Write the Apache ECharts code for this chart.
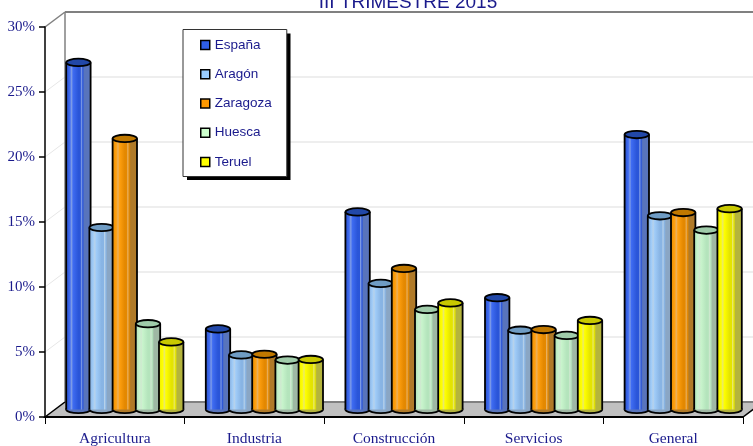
<!DOCTYPE html>
<html>
<head>
<meta charset="utf-8">
<style>html,body{margin:0;padding:0;background:#fff}#chart{width:753px;height:446px}</style>
<script src="https://cdn.jsdelivr.net/npm/echarts@6/dist/echarts.min.js"></script>
</head>
<body>
<div id="chart"></div>
<script>
const categories = ['Agricultura', 'Industria', 'Construcción', 'Servicios', 'General'];
const seriesNames = ['España', 'Aragón', 'Zaragoza', 'Huesca', 'Teruel'];
const espana = [26.7, 6.2, 15.2, 8.6, 21.15];
const aragon = [14.0, 4.2, 9.7, 6.1, 14.9];
const zaragoza = [20.85, 4.25, 10.85, 6.15, 15.15];
const huesca = [6.6, 3.8, 7.7, 5.7, 13.8];
const teruel = [5.2, 3.85, 8.2, 6.85, 15.45];
const seriesValues = [espana, aragon, zaragoza, huesca, teruel];
const yTicks = [0, 5, 10, 15, 20, 25, 30];

const legendColors = ['#2f5fe8', '#99ccff', '#ff9900', '#ccffcc', '#ffff00'];
const topColors = ['#2248a8', '#6f9cc4', '#c07800', '#a0ccaa', '#c8c800'];
// dark edge, bright, base, streak, muted
const bodyColors = [
  ['#2a50c8', '#3f6cf2', '#2a55d8', '#7f9ce6', '#5874bc'],
  ['#84acdc', '#a0ccf8', '#88b4e4', '#b8d2ea', '#8aa6c4'],
  ['#e88e00', '#ffa010', '#e48800', '#e8b060', '#b07a28'],
  ['#b0e2b6', '#c8f4cc', '#b4e4bc', '#cfe8d0', '#9fb8a4'],
  ['#eeee00', '#ffff00', '#e4e400', '#e8e870', '#b4b43c']
];

const NAVY = '#1a1a8c';
const DEPTH_X = 20, DEPTH_Y = -15;
const BAR_PITCH = 23.2, RX = 12.2, RY = 3.7;

function bodyFill(c) {
  return new echarts.graphic.LinearGradient(0, 0, 1, 0, [
    { offset: 0, color: c[0] }, { offset: 0.15, color: c[1] },
    { offset: 0.22, color: c[3] }, { offset: 0.28, color: c[1] },
    { offset: 0.5, color: c[2] }, { offset: 0.58, color: c[2] },
    { offset: 0.62, color: c[3] }, { offset: 0.68, color: c[2] },
    { offset: 0.74, color: c[4] }, { offset: 1, color: c[4] }
  ]);
}

function renderCylinder(i) {
  return function (params, api) {
    const top = api.coord([api.value(0), api.value(1)]);
    const base = api.coord([api.value(0), 0]);
    const cx = top[0] + (i - 2) * BAR_PITCH + DEPTH_X / 2;
    const topY = top[1] + DEPTH_Y / 2;
    const baseY = base[1] + DEPTH_Y / 2;
    const line = { stroke: '#000', lineWidth: 1.8 };
    return {
      type: 'group',
      children: [
        { type: 'ellipse', shape: { cx: cx, cy: baseY, rx: RX, ry: RY }, style: { fill: bodyColors[i][4], stroke: '#000', lineWidth: 1.8 } },
        { type: 'rect', shape: { x: cx - RX, y: topY, width: RX * 2, height: baseY - topY }, style: { fill: bodyFill(bodyColors[i]) } },
        { type: 'line', shape: { x1: cx - RX, y1: topY, x2: cx - RX, y2: baseY }, style: line },
        { type: 'line', shape: { x1: cx + RX, y1: topY, x2: cx + RX, y2: baseY }, style: line },
        { type: 'ellipse', shape: { cx: cx, cy: topY, rx: RX, ry: RY }, style: { fill: topColors[i], stroke: '#000', lineWidth: 1.8 } }
      ]
    };
  };
}

// back wall, floor and the 3d gridlines, one data item per y tick
function renderFrame(params, api) {
  const v = api.value(0);
  const x = params.coordSys.x;
  const x1 = x + params.coordSys.width;
  const y = api.coord([0, v])[1];
  const children = [];
  if (v === 0) {
    children.push({
      type: 'polygon',
      shape: { points: [[x, y], [x + DEPTH_X, y + DEPTH_Y], [x1 + DEPTH_X, y + DEPTH_Y], [x1, y]] },
      style: { fill: '#c0c0c0', stroke: '#000', lineWidth: 1.5 }
    });
    children.push({ type: 'line', shape: { x1: x + DEPTH_X, y1: y + DEPTH_Y, x2: x1 + DEPTH_X, y2: y + DEPTH_Y }, style: { stroke: '#808080', lineWidth: 2 } });
  } else if (v === 30) {
    const bottom = api.coord([0, 0])[1];
    children.push({ type: 'line', shape: { x1: x, y1: y, x2: x + DEPTH_X, y2: y + DEPTH_Y }, style: { stroke: '#808080', lineWidth: 1.5 } });
    children.push({ type: 'line', shape: { x1: x + DEPTH_X, y1: y + DEPTH_Y, x2: x1 + DEPTH_X, y2: y + DEPTH_Y }, style: { stroke: '#808080', lineWidth: 2 } });
    children.push({ type: 'line', shape: { x1: x + DEPTH_X, y1: y + DEPTH_Y, x2: x + DEPTH_X, y2: bottom + DEPTH_Y }, style: { stroke: '#808080', lineWidth: 1.5 } });
  } else {
    children.push({ type: 'line', shape: { x1: x, y1: y, x2: x + DEPTH_X, y2: y + DEPTH_Y }, style: { stroke: '#e6e6e6', lineWidth: 1 } });
    children.push({ type: 'line', shape: { x1: x + DEPTH_X, y1: y + DEPTH_Y, x2: x1 + DEPTH_X, y2: y + DEPTH_Y }, style: { stroke: '#e8e8e8', lineWidth: 1.5 } });
  }
  return { type: 'group', children: children };
}

const chart = echarts.init(document.getElementById('chart'), null, { renderer: 'canvas' });
chart.setOption({
  animation: false,
  title: {
    text: 'III TRIMESTRE 2015', left: 408, top: -7, textAlign: 'center', padding: 0,
    textStyle: { color: NAVY, fontFamily: 'Liberation Sans', fontSize: 19, fontWeight: 'normal' }
  },
  graphic: [
    // legend drop shadow
    { type: 'rect', left: 187, top: 33.5, z: 3, shape: { width: 103.5, height: 146.5 }, style: { fill: '#000' } }
  ],
  grid: { left: 45, top: 27, width: 698, height: 390, outerBoundsMode: 'none' },
  legend: {
    data: seriesNames, orient: 'vertical', left: 183, top: 29.5,
    padding: [8.5, 15, 7.5, 17], itemGap: 15.25, itemWidth: 9, itemHeight: 9,
    icon: 'rect', backgroundColor: '#fff', borderColor: '#333', borderWidth: 1,
    itemStyle: { borderColor: '#000', borderWidth: 1.5 },
    textStyle: { color: NAVY, fontFamily: 'Liberation Sans', fontSize: 13.5, lineHeight: 14 }
  },
  xAxis: {
    type: 'category', data: categories, z: 1,
    axisLine: { lineStyle: { color: '#000', width: 2 } },
    axisTick: { show: true, length: 7, lineStyle: { color: '#000', width: 1 } },
    axisLabel: { color: NAVY, fontFamily: 'Liberation Serif', fontSize: 15.5, margin: 14, interval: 0 }
  },
  yAxis: {
    type: 'value', min: 0, max: 30, interval: 5, z: 1,
    axisLine: { show: true, lineStyle: { color: '#000', width: 1.5 } },
    axisTick: { show: true, length: 6, lineStyle: { color: '#000', width: 1.5 } },
    splitLine: { show: false },
    axisLabel: { color: NAVY, fontFamily: 'Liberation Serif', fontSize: 15, margin: 10, formatter: '{value}%' }
  },
  series: [
    { type: 'custom', name: 'frame', z: 0, silent: true, data: yTicks.map(v => [v]), encode: { x: -1, y: 0 }, renderItem: renderFrame }
  ].concat(seriesNames.map((name, i) => ({
    type: 'custom', name: name, z: 2,
    itemStyle: { color: legendColors[i] },
    data: seriesValues[i].map((v, c) => [c, v]),
    encode: { x: 0, y: 1 },
    renderItem: renderCylinder(i)
  })))
});
</script>
</body>
</html>
